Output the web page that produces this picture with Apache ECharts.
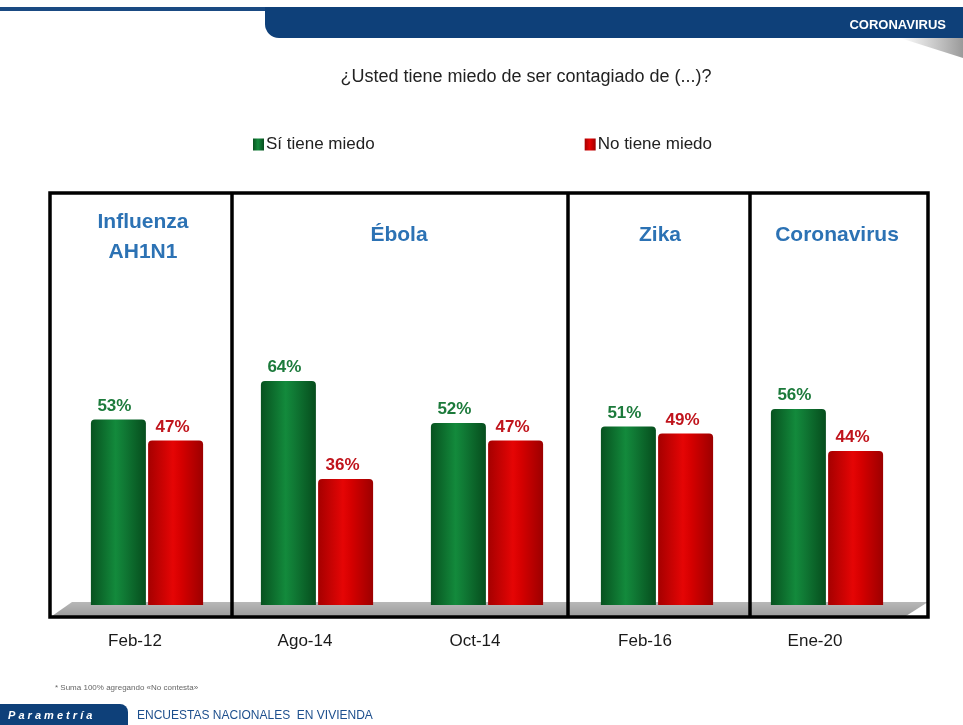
<!DOCTYPE html>
<html>
<head>
<meta charset="utf-8">
<style>
html,body{margin:0;padding:0;background:#ffffff;}
#chart{width:963px;height:725px;}
</style>
<script src="https://cdn.jsdelivr.net/npm/echarts@6/dist/echarts.min.js"></script>
</head>
<body>
<div id="chart"></div>
<script>
var categories = ['Feb-12', 'Ago-14', 'Oct-14', 'Feb-16', 'Ene-20'];
var siTieneMiedo = [53, 64, 52, 51, 56];
var noTieneMiedo = [47, 36, 47, 49, 44];
var groupTitles = ['Influenza\nAH1N1', 'Ébola', 'Zika', 'Coronavirus'];

var FONT = '"Liberation Sans", "Noto Sans", Arial, sans-serif';
var chart = echarts.init(document.getElementById('chart'));

var greenGrad = new echarts.graphic.LinearGradient(0, 0, 1, 0, [
  {offset: 0, color: '#07521f'},
  {offset: 0.45, color: '#138a3c'},
  {offset: 0.6, color: '#107a35'},
  {offset: 1, color: '#064d1d'}
]);
var redGrad = new echarts.graphic.LinearGradient(0, 0, 1, 0, [
  {offset: 0, color: '#a50000'},
  {offset: 0.45, color: '#e50505'},
  {offset: 0.6, color: '#d60000'},
  {offset: 1, color: '#9c0000'}
]);

var titleStyle = {fill: '#2c72b4', font: 'bold 21px ' + FONT, align: 'center', verticalAlign: 'middle', lineHeight: 30};

chart.setOption({
  backgroundColor: '#ffffff',
  animation: false,
  title: {
    text: '¿Usted tiene miedo de ser contagiado de (...)?',
    left: 521, top: 63, textAlign: 'center',
    textStyle: {fontFamily: FONT, fontSize: 18, fontWeight: 'normal', color: '#222'}
  },
  legend: {
    left: 248, top: 131, itemWidth: 11, itemHeight: 12, itemGap: 210,
    icon: 'rect',
    textStyle: {fontFamily: FONT, fontSize: 17, color: '#222', padding: [0,0,0,-3]},
    data: ['Sí tiene miedo', 'No tiene miedo']
  },
  grid: {left: 62, right: 51, top: 255, bottom: 120},
  xAxis: {
    type: 'category', data: categories,
    axisLine: {show: false}, axisTick: {show: false},
    axisLabel: {margin: 28, fontFamily: FONT, fontSize: 17, color: '#1a1a1a', padding: [0, 24, 0, 0]}
  },
  yAxis: {type: 'value', min: 0, max: 100, show: false, splitLine: {show: false}},
  series: [
    {
      name: 'Sí tiene miedo', type: 'bar', data: siTieneMiedo,
      barWidth: 55, barGap: '4%', z: 3,
      itemStyle: {color: greenGrad, borderRadius: [4, 4, 0, 0]},
      label: {show: true, position: 'top', distance: 5, formatter: '{c}%', offset: [-4, 0],
        fontFamily: FONT, fontSize: 17, fontWeight: 'bold', color: '#1c7a3b'}
    },
    {
      name: 'No tiene miedo', type: 'bar', data: noTieneMiedo,
      barWidth: 55, z: 3,
      itemStyle: {color: redGrad, borderRadius: [4, 4, 0, 0]},
      label: {show: true, position: 'top', distance: 5, formatter: '{c}%', offset: [-3, 0],
        fontFamily: FONT, fontSize: 17, fontWeight: 'bold', color: '#c0141c'}
    }
  ],
  color: ['#0b6e33', '#d00000'],
  graphic: [
    {type: 'rect', shape: {x: 0, y: 7, width: 280, height: 4}, style: {fill: '#1a4a82'}, z: 1},
    {type: 'rect', shape: {x: 265, y: 7, width: 720, height: 31, r: [0, 0, 0, 14]}, style: {fill: '#0e4079'}, z: 1},
    {type: 'polygon', shape: {points: [[900, 38], [963, 38], [963, 58]]},
      style: {fill: new echarts.graphic.LinearGradient(0, 0, 1, 0, [{offset: 0, color: 'rgba(160,160,160,0)'}, {offset: 1, color: '#9a9a9a'}])}, z: 1},
    {type: 'text', style: {text: 'CORONAVIRUS', x: 946, y: 25, fill: '#ffffff', font: 'bold 13px ' + FONT, align: 'right', verticalAlign: 'middle'}, z: 2},
    {type: 'polygon', shape: {points: [[52, 616], [906, 616], [928, 602], [72, 602]]},
      style: {fill: new echarts.graphic.LinearGradient(0, 0, 0, 1, [{offset: 0, color: '#b8b8b8'}, {offset: 1, color: '#9c9c9c'}])}, z: 1},
    {type: 'rect', shape: {x: 50, y: 193, width: 878, height: 424}, style: {fill: 'none', stroke: '#000', lineWidth: 3.5}, z: 5},
    {type: 'line', shape: {x1: 232, y1: 193, x2: 232, y2: 617}, style: {stroke: '#000', lineWidth: 3.5}, z: 5},
    {type: 'line', shape: {x1: 568, y1: 193, x2: 568, y2: 617}, style: {stroke: '#000', lineWidth: 3.5}, z: 5},
    {type: 'line', shape: {x1: 750, y1: 193, x2: 750, y2: 617}, style: {stroke: '#000', lineWidth: 3.5}, z: 5},
    {type: 'text', style: Object.assign({text: groupTitles[0], x: 143, y: 237}, titleStyle), z: 5},
    {type: 'text', style: Object.assign({text: groupTitles[1], x: 399, y: 235}, titleStyle), z: 5},
    {type: 'text', style: Object.assign({text: groupTitles[2], x: 660, y: 235}, titleStyle), z: 5},
    {type: 'text', style: Object.assign({text: groupTitles[3], x: 837, y: 235}, titleStyle), z: 5},
    {type: 'text', style: {text: '* Suma 100% agregando «No contesta»', x: 55, y: 688, fill: '#666', font: '8px ' + FONT, verticalAlign: 'middle'}, z: 2},
    {type: 'rect', shape: {x: -10, y: 704, width: 138, height: 26, r: [8, 8, 0, 0]}, style: {fill: '#0e4079'}, z: 2},
    {type: 'text', style: {text: 'P a r a m e t r í a', x: 8, y: 716, fill: '#ffffff', font: 'italic bold 11px ' + FONT, verticalAlign: 'middle'}, z: 3},
    {type: 'text', style: {text: 'ENCUESTAS NACIONALES  EN VIVIENDA', x: 137, y: 716, fill: '#1d4f8d', font: '12px ' + FONT, verticalAlign: 'middle'}, z: 2}
  ]
});
</script>
</body>
</html>
